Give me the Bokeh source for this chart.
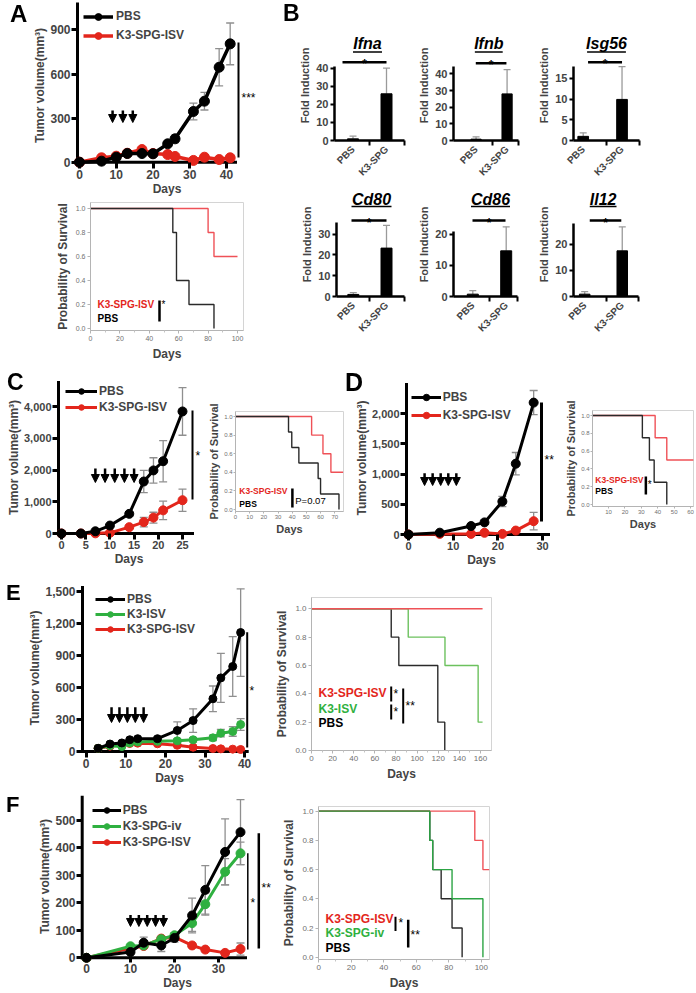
import math
from bokeh.plotting import figure
from bokeh.models import (Range1d, FixedTicker, NumeralTickFormatter, Legend, LegendItem,
                          Whisker, TeeHead, Arrow, NormalHead, ColumnDataSource, Div)
from bokeh.layouts import row, column
from bokeh.core.properties import value
from bokeh.embed import file_html
from bokeh.resources import INLINE

FONT = "Liberation Sans"
BLACK = "#000000"
RED = "#e3261c"
GREEN = "#2fb040"
KM_BLACK = "#2a2a2a"
KM_RED = "#ef5157"
KM_GREEN_E = "#6cc15e"
KM_GREEN_F = "#2ca444"
ERR = "#8f8f8f"

# ------------------------------------------------------------------ data
PANELS = ["A", "B", "C", "D", "E", "F"]

# Panel A - tumour volume
A_days = [0, 6, 10, 13, 17, 20, 24, 26, 31, 34, 38, 41]
A_pbs = [0, 7, 34, 59, 59, 57, 125, 159, 345, 415, 646, 805]
A_pbs_err = [0, 2, 5, 8, 8, 8, 18, 25, 57, 60, 127, 142]
A_isv = [0, 30, 41, 61, 86, 59, 52, 39, 12, 34, 18, 30]
A_isv_err = [0, 4, 5, 6, 8, 6, 6, 6, 5, 6, 6, 6]
A_treat = [9, 11.8, 14.5]
# Panel A - survival
A_km_pbs_t = [0, 56, 58.5, 67, 84]
A_km_pbs_s = [1.0, 0.8, 0.4, 0.2, 0.0]
A_km_isv_t = [0, 80, 84, 100]
A_km_isv_s = [1.0, 0.8, 0.6, 0.6]

# Panel B - fold induction
B_groups = ["PBS", "K3-SPG"]
B_genes = ["Ifna", "Ifnb", "Isg56", "Cd80", "Cd86", "Il12"]
ifna_mean = [0.9, 25.8]
ifna_err = [1.5, 14.2]
ifnb_mean = [0.8, 28.0]
ifnb_err = [1.4, 14.6]
isg56_mean = [1.0, 9.9]
isg56_err = [0.85, 7.9]
cd80_mean = [1.0, 23.3]
cd80_err = [0.9, 10.9]
cd86_mean = [0.75, 14.65]
cd86_err = [1.15, 7.7]
il12_mean = [0.9, 17.45]
il12_err = [1.0, 9.15]
B_ticks = [[0, 10, 20, 30, 40], [0, 10, 20, 30, 40], [0, 5, 10, 15],
           [0, 10, 20, 30], [0, 10, 20], [0, 10, 20]]

# Panel C
C_days = [0, 4, 7, 10, 14, 17, 19, 21, 25]
C_pbs = [0, 0, 70, 250, 620, 1640, 1990, 2280, 3850]
C_pbs_err = [0, 0, 20, 40, 60, 350, 400, 650, 750]
C_isv = [0, 0, 5, 20, 200, 360, 500, 730, 1050]
C_isv_err = [0, 0, 5, 10, 40, 150, 170, 290, 350]
C_treat = [7, 9, 11, 13, 15]
C_km_pbs_t = [0, 37.4, 39.7, 44.7, 58.3, 60, 73]
C_km_pbs_s = [1.0, 0.833, 0.667, 0.5, 0.333, 0.167, 0.0]
C_km_isv_t = [0, 53.7, 61.7, 67.3, 76]
C_km_isv_s = [1.0, 0.8, 0.6, 0.4, 0.4]

# Panel D
D_days = [0, 7, 14, 17, 21, 24, 28]
D_pbs = [0, 30, 140, 200, 545, 1170, 2180]
D_pbs_err = [0, 5, 20, 30, 85, 185, 200]
D_isv = [0, 10, 10, 28, 10, 65, 220]
D_isv_err = [0, 5, 5, 8, 8, 20, 145]
D_treat = [3.6, 5.4, 7.2, 8.9, 10.7]
D_km_pbs_t = [0, 30.6, 34.9, 37.8, 45.5]
D_km_pbs_s = [1.0, 0.75, 0.5, 0.25, 0.0]
D_km_isv_t = [0, 38.4, 45.5, 62]
D_km_isv_s = [1.0, 0.75, 0.5, 0.5]

# Panel E
E_days = [3, 6, 9, 11, 13, 18, 23, 27, 32, 34, 37, 39]
E_pbs = [30, 70, 80, 110, 120, 120, 197, 290, 494, 690, 797, 1115]
E_pbs_err = [5, 10, 10, 12, 15, 20, 80, 110, 120, 230, 280, 410]
E_k3 = [30, 55, 47, 80, 90, 95, 100, 110, 128, 172, 188, 253]
E_k3_err = [5, 8, 8, 10, 10, 12, 15, 20, 25, 35, 45, 55]
E_isv = [30, 50, 60, 75, 78, 72, 58, 40, 28, 25, 22, 19]
E_isv_err = [5, 6, 6, 8, 8, 8, 8, 6, 5, 5, 5, 5]
E_treat = [6.4, 8.4, 10.4, 12.4, 14.5]
E_km_pbs_t = [0, 75.5, 82.7, 119.6, 126.2]
E_km_pbs_s = [1.0, 0.8, 0.6, 0.2, 0.0]
E_km_k3_t = [0, 91.6, 126.4, 157.8, 162]
E_km_k3_s = [1.0, 0.8, 0.6, 0.2, 0.2]
E_km_isv_t = [0, 162]
E_km_isv_s = [1.0, 1.0]

# Panel F
F_days = [0, 10, 13, 17, 20, 24, 27, 31.5, 35]
F_pbs = [0, 21, 55, 45, 72, 154, 247, 385, 457]
F_pbs_err = [0, 5, 20, 22, 15, 63, 88, 120, 118]
F_iv = [0, 42, 45, 68, 82, 126, 195, 313, 380]
F_iv_err = [0, 5, 8, 8, 10, 30, 40, 48, 41]
F_isv = [0, 35, 43, 70, 75, 45, 30, 18, 32]
F_isv_err = [0, 5, 5, 8, 10, 8, 8, 8, 22]
F_treat = [10, 11.9, 13.8, 15.7, 17.5]
F_km_pbs_t = [0, 68.3, 70.1, 75.3, 82, 88.2]
F_km_pbs_s = [1.0, 0.8, 0.6, 0.4, 0.2, 0.0]
F_km_iv_t = [0, 68.3, 70.1, 82, 101]
F_km_iv_s = [1.0, 0.8, 0.6, 0.4, 0.0]
F_km_isv_t = [0, 96, 101, 105]
F_km_isv_s = [1.0, 0.8, 0.6, 0.6]


# ------------------------------------------------------------------ helpers
def make_fig(geo):
    ox, oy, w, h, fl, ft, fr, fb, x0, xs, y0, ys = geo
    p = figure(width=w, height=h,
               x_range=Range1d((fl - x0) / xs, (fr - x0) / xs),
               y_range=Range1d((y0 - fb) / ys, (y0 - ft) / ys),
               output_backend="svg", toolbar_location=None,
               min_border_left=int(round(fl - ox)), min_border_right=int(round(ox + w - fr)),
               min_border_top=int(round(ft - oy)), min_border_bottom=int(round(oy + h - fb)))
    p.grid.visible = False
    p.outline_line_color = None
    p.border_fill_color = "white"

    def fx(px):
        return (px - x0) / xs

    def fy(py):
        return (y0 - py) / ys
    return p, fx, fy


def txt(p, x, y, s, color=BLACK, size="12px", style="bold", align="left", baseline="middle"):
    p.text(x=[x], y=[y], text=[s], text_color=color, text_font=value(FONT),
           text_font_size=size, text_font_style=style, text_align=align,
           text_baseline=baseline)


def vline(p, x, y0, y1, width=2.0, color=BLACK):
    p.segment(x0=[x], y0=[y0], x1=[x], y1=[y1], line_color=color, line_width=width)


def style_tumour(p, geo, fx, fy, xticks, yticks, x_vis_px, x_end_px, y_top_px, comma, tick_size="12px"):
    fl, fb, y0 = geo[4], geo[7], geo[10]
    xa, ya = p.xaxis[0], p.yaxis[0]
    xa.ticker = FixedTicker(ticks=xticks)
    ya.ticker = FixedTicker(ticks=yticks)
    if comma:
        ya.formatter = NumeralTickFormatter(format="0,0")
    for a in (xa, ya):
        a.axis_line_color = None
        a.major_tick_line_width = 3
        a.major_tick_line_color = BLACK
        a.major_tick_out = 0
        a.minor_tick_line_color = None
        a.major_label_text_font = FONT
        a.major_label_text_font_style = "bold"
        a.major_label_text_font_size = tick_size
        a.major_label_standoff = 1
        a.axis_label_text_font = FONT
        a.axis_label_text_font_style = "bold"
        a.axis_label_text_font_size = "12px"
        a.axis_label_standoff = 0
    xa.major_tick_in = int(round(fb - y0))
    ya.major_tick_in = int(round(x_vis_px - fl))
    xa.axis_label = "Days"
    ya.axis_label = "Tumor volume(mm³)"
    xv = fx(x_vis_px)
    p.segment(x0=[xv, xv], y0=[0, 0], x1=[fx(x_end_px), xv], y1=[0, fy(y_top_px)],
              line_color=BLACK, line_width=3, line_cap="square")


def add_series(p, x, y, err, color, size, lw):
    xe = [a for a, e in zip(x, err) if e > 0]
    lo = [b - e for b, e in zip(y, err) if e > 0]
    hi = [b + e for b, e in zip(y, err) if e > 0]
    esrc = ColumnDataSource(dict(x=xe, lo=lo, hi=hi))
    p.add_layout(Whisker(source=esrc, base="x", lower="lo", upper="hi",
                         line_color=ERR, line_width=1.3,
                         upper_head=TeeHead(size=8, line_color=ERR, line_width=1.3),
                         lower_head=TeeHead(size=8, line_color=ERR, line_width=1.3)))
    src = ColumnDataSource(dict(x=x, y=y))
    ln = p.line("x", "y", source=src, line_color=color, line_width=lw)
    sc = p.scatter("x", "y", source=src, size=size, fill_color=color, line_color=color)
    return [ln, sc]


def add_arrows(p, days, ytop, ybot, size=8, lw=2.5):
    n = len(days)
    src = ColumnDataSource(dict(x=days, y0=[ytop] * n, y1=[ybot] * n))
    p.add_layout(Arrow(end=NormalHead(size=size, fill_color=BLACK, line_color=BLACK, line_width=1),
                       x_start="x", y_start="y0", x_end="x", y_end="y1", source=src,
                       line_width=lw, line_color=BLACK))


def add_legend(p, geo, entries, img_left, img_top, gh, sp, gw=30, standoff=3):
    fl, fb = geo[4], geo[7]
    n = len(entries)
    height = n * gh + (n - 1) * sp
    lg = Legend(items=[LegendItem(label=lab, renderers=rs) for lab, rs in entries],
                location=(img_left - fl, fb - (img_top + height)),
                glyph_width=gw, glyph_height=gh, spacing=sp, padding=0, margin=0,
                label_standoff=standoff, label_height=gh, label_width=10,
                border_line_color=None, background_fill_alpha=0,
                label_text_font=FONT, label_text_font_style="bold",
                label_text_font_size="12px")
    p.add_layout(lg)


def style_km(p, xticks, xminor, tick_size="7px", label_size="12px", tick_out=3, lab_standoff=3):
    xa, ya = p.xaxis[0], p.yaxis[0]
    xa.ticker = FixedTicker(ticks=xticks, minor_ticks=xminor)
    ya.ticker = FixedTicker(ticks=[0, 0.2, 0.4, 0.6, 0.8, 1.0])
    ya.formatter = NumeralTickFormatter(format="0.0")
    for a in (xa, ya):
        a.axis_line_color = "#b4b4b4"
        a.axis_line_width = 1
        a.major_tick_line_color = "#b4b4b4"
        a.major_tick_out = tick_out
        a.major_tick_in = 0
        a.minor_tick_line_color = "#c4c4c4"
        a.minor_tick_out = 2
        a.minor_tick_in = 0
        a.major_label_text_font = FONT
        a.major_label_text_font_size = tick_size
        a.major_label_text_color = "#707070"
        a.major_label_standoff = 1 if tick_out < 3 else 2
        a.axis_label_text_font = FONT
        a.axis_label_text_font_style = "bold"
        a.axis_label_text_font_size = label_size
        a.axis_label_standoff = lab_standoff
    xa.axis_label = "Days"
    ya.axis_label = "Probability of Survival"
    p.outline_line_color = "#d4d4d4"


def km(p, t, s, color, lw=1.4):
    p.step(x=t, y=s, mode="after", line_color=color, line_width=lw)


# ------------------------------------------------------------------ Panel A
gA1 = (0, 0, 290, 201, 71, 2, 262, 168, 79, 3.675, 161.7, 0.147)
pA1, fx, fy = make_fig(gA1)
style_tumour(pA1, gA1, fx, fy, [0, 10, 20, 30, 40], [0, 300, 600, 900], 77, 235, 0, False)
rA_isv = add_series(pA1, A_days, A_isv, A_isv_err, RED, 10, 3.5)
rA_pbs = add_series(pA1, A_days, A_pbs, A_pbs_err, BLACK, 10, 3.5)
add_arrows(pA1, A_treat, fy(110), fy(122))
vline(pA1, fx(238), fy(42), fy(157), 2)
txt(pA1, fx(241), fy(97), "***", size="12px", style="normal")
add_legend(pA1, gA1, [("PBS", rA_pbs), ("K3-SPG-ISV", rA_isv)], 83, 7.7, 17, 2)

gA2 = (0, 201, 290, 167, 90, 202, 243, 330, 90, 1.47, 328, 120)
pA2, fx, fy = make_fig(gA2)
style_km(pA2, [0, 20, 40, 60, 80, 100], [10, 30, 50, 70, 90])
km(pA2, A_km_isv_t, A_km_isv_s, KM_RED)
km(pA2, A_km_pbs_t, A_km_pbs_s, KM_BLACK)
txt(pA2, fx(97), fy(304), "K3-SPG-ISV", RED, "10px")
txt(pA2, fx(97), fy(318), "PBS", BLACK, "10px")
vline(pA2, fx(159), fy(300), fy(321), 2.5)
txt(pA2, fx(161), fy(304), "*", BLACK, "10px", "normal")

# ------------------------------------------------------------------ Panel B
B_geos = [(290, 0, 125, 192, 334, 30, 404, 140, 319.0, 33.5, 140, 1.81),
          (415, 0, 120, 192, 448, 30, 518, 140, 438.9, 33.4, 140, 1.665),
          (535, 0, 161, 192, 571, 30, 639, 140, 541.0, 40.0, 140, 4.15),
          (290, 192, 125, 176, 336, 192, 404, 296, 319.6, 33.2, 296, 2.077),
          (415, 192, 120, 176, 453, 192, 517, 296, 438.9, 33.4, 296, 3.117),
          (535, 192, 161, 176, 570, 192, 638, 296, 542.4, 39.3, 296, 2.617)]
B_means = [ifna_mean, ifnb_mean, isg56_mean, cd80_mean, cd86_mean, il12_mean]
B_errs = [ifna_err, ifnb_err, isg56_err, cd80_err, cd86_err, il12_err]
B_axis_top_px = [66, 66, 66, 222, 231, 223]
B_title_cx = [367, 486, 605, 371, 490, 601]
B_title_w = [29, 30, 40, 40, 39, 28]
B_title_y = [43.3, 43.3, 43.3, 198.5, 198.5, 198.5]
B_ul_y = [51.5, 51.5, 51.5, 206, 206, 206]
B_sig_y = [61.7, 62.7, 61.7, 220, 220, 220]
B_sig_x = [(342, 386), (472, 505), (586, 621), (351, 386), (472, 505), (587, 620)]
B_mid_px = [369, 490, 605, 369, 489, 605]

bfigs = []
for i, gname in enumerate(B_genes):
    geo = B_geos[i]
    p, fx, fy = make_fig(geo)
    xs = geo[9]
    means = B_means[i]
    errs = B_errs[i]
    src = ColumnDataSource(dict(x=[1, 2], lo=means, hi=[m + e for m, e in zip(means, errs)]))
    p.add_layout(Whisker(source=src, base="x", lower="lo", upper="hi",
                         line_color="#9a9a9a", line_width=1.3,
                         upper_head=TeeHead(size=7, line_color="#9a9a9a", line_width=1.3),
                         lower_head=None))
    p.vbar(x=[1, 2], top=means, width=11 / xs, fill_color=BLACK, line_color=BLACK)
    cx = B_title_cx[i]
    hw = B_title_w[i] / 2
    txt(p, fx(cx), fy(B_title_y[i]), gname, BLACK, "16px", "bold italic", "center")
    p.segment(x0=[fx(cx - hw)], y0=[fy(B_ul_y[i])], x1=[fx(cx + hw)], y1=[fy(B_ul_y[i])],
              line_color=BLACK, line_width=1.5)
    sx0, sx1 = B_sig_x[i]
    p.segment(x0=[fx(sx0)], y0=[fy(B_sig_y[i])], x1=[fx(sx1)], y1=[fy(B_sig_y[i])],
              line_color=BLACK, line_width=2.5)
    txt(p, fx((sx0 + sx1) / 2), fy(B_sig_y[i] + 2), "*", BLACK, "12px", "bold", "center", "alphabetic")
    xa, ya = p.xaxis[0], p.yaxis[0]
    xa.ticker = FixedTicker(ticks=[1, 2], minor_ticks=[fx(B_mid_px[i]), fx(geo[6]) - 0.01])
    xa.major_label_overrides = {1: B_groups[0], 2: B_groups[1]}
    xa.major_label_orientation = math.pi / 4
    xa.major_tick_line_color = None
    xa.major_tick_out = 0
    xa.major_tick_in = 0
    xa.minor_tick_line_color = BLACK
    xa.minor_tick_line_width = 2
    xa.minor_tick_out = 5
    xa.minor_tick_in = 0
    ya.ticker = FixedTicker(ticks=B_ticks[i])
    ya.bounds = (0, fy(B_axis_top_px[i]))
    ya.major_tick_out = 4
    ya.major_tick_in = 0
    ya.major_tick_line_width = 2
    ya.minor_tick_line_color = None
    for a in (xa, ya):
        a.axis_line_width = 2.5
        a.axis_line_color = BLACK
        a.major_label_text_font = FONT
        a.major_label_text_font_style = "bold"
        a.major_label_standoff = 2
    xa.major_label_text_font_size = "10px"
    ya.major_label_text_font_size = "11px"
    ya.axis_label = "Fold Induction"
    ya.axis_label_text_font = FONT
    ya.axis_label_text_font_style = "bold"
    ya.axis_label_text_font_size = "11px"
    ya.axis_label_standoff = 2
    bfigs.append(p)

# ------------------------------------------------------------------ Panel C
gC1 = (0, 368, 205, 204, 52, 375, 205, 539, 61, 4.84, 533, 0.0317)
pC1, fx, fy = make_fig(gC1)
style_tumour(pC1, gC1, fx, fy, [0, 5, 10, 15, 20, 25], [0, 1000, 2000, 3000, 4000], 58, 192, 382, True, "11px")
rC_isv = add_series(pC1, C_days, C_isv, C_isv_err, RED, 9, 3)
rC_pbs = add_series(pC1, C_days, C_pbs, C_pbs_err, BLACK, 9, 3)
add_arrows(pC1, C_treat, fy(468), fy(482))
vline(pC1, fx(192), fy(410), fy(499), 2)
txt(pC1, fx(195), fy(455), "*", style="normal")
add_legend(pC1, gC1, [("PBS", rC_pbs), ("K3-SPG-ISV", rC_isv)], 65, 383.7, 14, 2, gw=32, standoff=2)

gC2 = (205, 368, 143, 204, 231, 411, 343, 511, 231, 1.47, 509, 93)
pC2, fx, fy = make_fig(gC2)
style_km(pC2, [0, 10, 20, 30, 40, 50, 60, 70], [], "6px", "11px", 2, 1)
km(pC2, C_km_isv_t, C_km_isv_s, KM_RED)
km(pC2, C_km_pbs_t, C_km_pbs_s, KM_BLACK)
txt(pC2, fx(235), fy(490), "K3-SPG-ISV", RED, "8.5px")
txt(pC2, fx(235), fy(503), "PBS", BLACK, "8.5px")
vline(pC2, fx(290), fy(488), fy(507), 2.5)
txt(pC2, fx(293), fy(500), "P=0.07", BLACK, "9.5px", "normal")

# ------------------------------------------------------------------ Panel D
gD1 = (348, 368, 214, 204, 400, 375, 562, 540, 408, 4.47, 534, 0.0605)
pD1, fx, fy = make_fig(gD1)
style_tumour(pD1, gD1, fx, fy, [0, 10, 20, 30], [0, 500, 1000, 1500, 2000], 406, 548, 384, True, "11px")
rD_isv = add_series(pD1, D_days, D_isv, D_isv_err, RED, 9, 3)
rD_pbs = add_series(pD1, D_days, D_pbs, D_pbs_err, BLACK, 9, 3)
add_arrows(pD1, D_treat, fy(472.7), fy(485))
vline(pD1, fx(541), fy(402), fy(521), 3)
txt(pD1, fx(544), fy(459), "**", style="normal")
add_legend(pD1, gD1, [("PBS", rD_pbs), ("K3-SPG-ISV", rD_isv)], 410.7, 389.3, 16, 2, gw=30, standoff=2)

gD2 = (562, 368, 134, 204, 587, 410, 693, 506, 586.7, 1.72, 504, 89)
pD2, fx, fy = make_fig(gD2)
style_km(pD2, [0, 10, 20, 30, 40, 50, 60], [], "6px", "11px", 2, 1)
km(pD2, D_km_isv_t, D_km_isv_s, KM_RED)
km(pD2, D_km_pbs_t, D_km_pbs_s, KM_BLACK)
txt(pD2, fx(590), fy(479), "K3-SPG-ISV", RED, "8.5px")
txt(pD2, fx(590), fy(490), "PBS", BLACK, "8.5px")
vline(pD2, fx(643), fy(476), fy(494), 2.5)
txt(pD2, fx(645), fy(484), "*", BLACK, "10px", "normal")

# ------------------------------------------------------------------ Panel E
gE1 = (0, 572, 270, 215, 76, 578, 262, 757, 85.7, 3.96, 751, 0.1067)
pE1, fx, fy = make_fig(gE1)
style_tumour(pE1, gE1, fx, fy, [0, 10, 20, 30, 40], [0, 300, 600, 900, 1200, 1500], 82, 246.7, 587, True)
rE_isv = add_series(pE1, E_days, E_isv, E_isv_err, RED, 8, 3)
rE_k3 = add_series(pE1, E_days, E_k3, E_k3_err, GREEN, 8, 3)
rE_pbs = add_series(pE1, E_days, E_pbs, E_pbs_err, BLACK, 8, 3)
add_arrows(pE1, E_treat, fy(706.7), fy(722))
vline(pE1, fx(246.7), fy(631.7), fy(747), 2)
txt(pE1, fx(249), fy(690), "*", style="normal")
add_legend(pE1, gE1, [("PBS", rE_pbs), ("K3-ISV", rE_k3), ("K3-SPG-ISV", rE_isv)], 95, 592.3, 14, 1, gw=30, standoff=2)

gE2 = (270, 572, 426, 215, 311, 597, 491, 750, 311, 1.056, 750, 141.7)
pE2, fx, fy = make_fig(gE2)
style_km(pE2, [0, 20, 40, 60, 80, 100, 120, 140, 160], [10, 30, 50, 70, 90, 110, 130, 150], "8px")
km(pE2, E_km_pbs_t, E_km_pbs_s, KM_BLACK)
km(pE2, E_km_k3_t, E_km_k3_s, KM_GREEN_E)
km(pE2, E_km_isv_t, E_km_isv_s, KM_RED)
txt(pE2, fx(318), fy(692), "K3-SPG-ISV", RED, "12px")
txt(pE2, fx(318), fy(708), "K3-ISV", GREEN, "12px")
txt(pE2, fx(318), fy(722), "PBS", BLACK, "12px")
vline(pE2, fx(390.7), fy(686), fy(701), 2)
txt(pE2, fx(393), fy(693), "*", BLACK, "12px", "normal")
vline(pE2, fx(390.7), fy(704), fy(719), 2)
txt(pE2, fx(393), fy(711), "*", BLACK, "12px", "normal")
vline(pE2, fx(402.7), fy(688), fy(723), 2)
txt(pE2, fx(405), fy(705), "**", BLACK, "12px", "normal")

# ------------------------------------------------------------------ Panel F
gF1 = (0, 787, 278, 205, 76, 790, 278, 963, 86, 4.4, 958.3, 0.2766)
pF1, fx, fy = make_fig(gF1)
style_tumour(pF1, gF1, fx, fy, [0, 10, 20, 30], [0, 100, 200, 300, 400, 500], 81.7, 245, 796.7, False)
rF_isv = add_series(pF1, F_days, F_isv, F_isv_err, RED, 9, 3)
rF_iv = add_series(pF1, F_days, F_iv, F_iv_err, GREEN, 9, 3)
rF_pbs = add_series(pF1, F_days, F_pbs, F_pbs_err, BLACK, 9, 3)
add_arrows(pF1, F_treat, 156, 114)
vline(pF1, fx(247.3), 380, 30, 1.5)
txt(pF1, fx(250), 200, "*", style="normal")
vline(pF1, fx(258.3), 453, 34, 2.5)
txt(pF1, fx(261), 254, "**", style="normal")
add_legend(pF1, gF1, [("PBS", rF_pbs), ("K3-SPG-iv", rF_iv), ("K3-SPG-ISV", rF_isv)], 91.7, 803.7, 14, 2, gw=29, standoff=2)

gF2 = (278, 787, 418, 205, 318, 806, 489, 960, 318.3, 1.625, 957.7, 147)
pF2, fx, fy = make_fig(gF2)
style_km(pF2, [0, 20, 40, 60, 80, 100], [10, 30, 50, 70, 90], "8px")
km(pF2, F_km_pbs_t, F_km_pbs_s, KM_BLACK)
km(pF2, F_km_isv_t, F_km_isv_s, KM_RED)
km(pF2, F_km_iv_t, F_km_iv_s, KM_GREEN_F)
txt(pF2, fx(325), 0.263, "K3-SPG-ISV", RED, "12px")
txt(pF2, fx(325), 0.165, "K3-SPG-iv", GREEN, "12px")
txt(pF2, fx(325), 0.066, "PBS", BLACK, "12px")
vline(pF2, fx(395), 0.277, 0.18, 2)
txt(pF2, fx(398), 0.235, "*", BLACK, "12px", "normal")
vline(pF2, fx(407.7), 0.257, 0.066, 2.5)
txt(pF2, fx(410), 0.155, "**", BLACK, "12px", "normal")

# ------------------------------------------------------------------ panel letters
letter_pos = [(10, 2, 24), (283, 2, 23), (7, 371, 23), (345, 370, 25), (6, 582, 22), (6, 794, 22)]
spans = "".join(
    "<span style=\"position:fixed;left:%dpx;top:%dpx;font-family:'Liberation Sans',Arial,sans-serif;"
    "font-weight:bold;font-size:%dpx;line-height:1;color:#000;\">%s</span>" % (x, y, s, ch)
    for ch, (x, y, s) in zip(PANELS, letter_pos))
letters = Div(text=spans, width=1, height=1,
              styles={"position": "absolute", "left": "0px", "top": "0px", "overflow": "visible"})


# ------------------------------------------------------------------ layout
def W(p):
    return column(p)


top = row(column(W(pA1), W(pA2)),
          column(row(*[W(b) for b in bfigs[:3]]), row(*[W(b) for b in bfigs[3:]])))
layout = column(top,
                row(W(pC1), W(pC2), W(pD1), W(pD2)),
                row(W(pE1), W(pE2)),
                row(W(pF1), W(pF2)),
                letters)

open("out.html", "w").write(file_html(layout, INLINE))
